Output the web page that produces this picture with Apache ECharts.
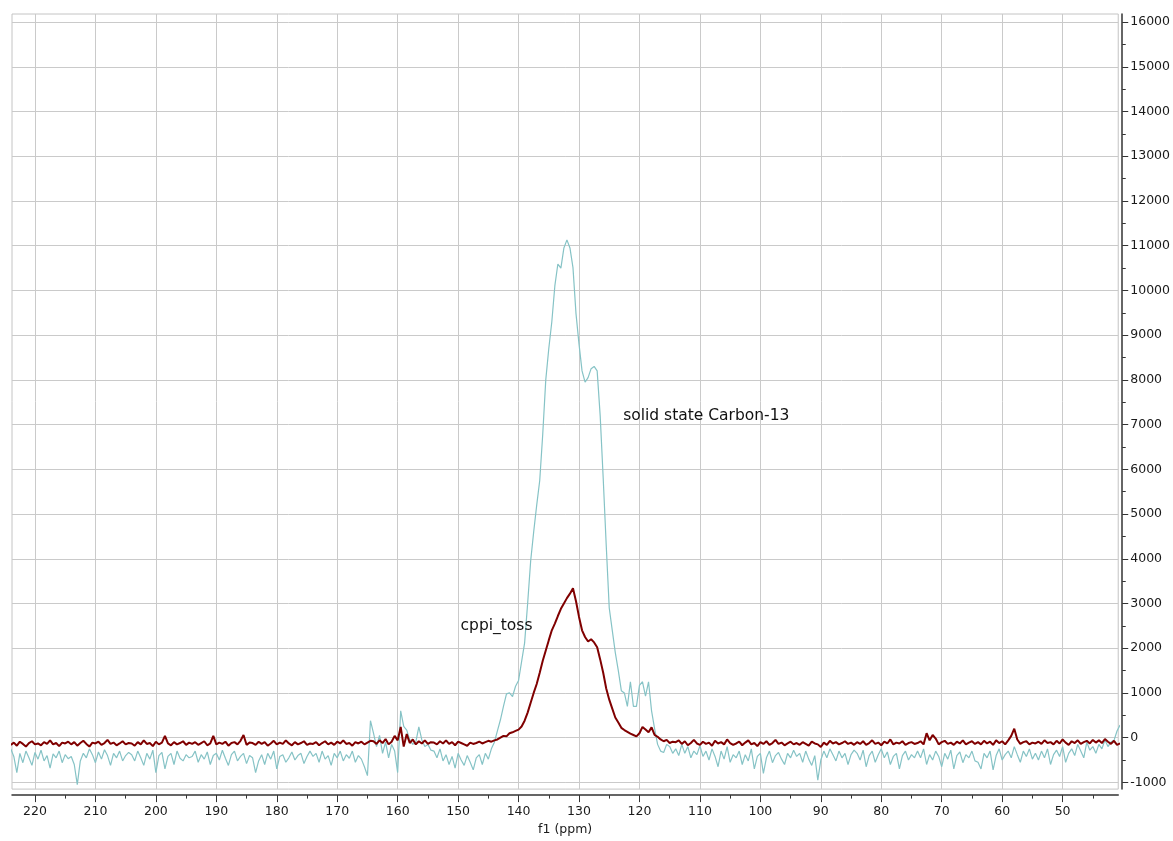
<!DOCTYPE html>
<html><head><meta charset="utf-8">
<script src="https://cdn.jsdelivr.net/npm/echarts@6/dist/echarts.min.js"></script>
<style>html,body{margin:0;padding:0;background:#fff;}#chart{width:1173px;height:841px;}</style>
</head><body><div id="chart"></div>
<script>
// sampling grid of the spectra (ppm), from left to right
const ppmStart = 224.0;
const ppmStep = 0.5;

// cppi_toss intensities (dark red trace), 224.0 -> 40.5 ppm
const cppiToss = [
 -160,-110,-180,-90,-140,-200,-120,-80,-150,-130,-170,-100,-140,-60,-150,-120,-190,-110,-130,-90,
 -150,-100,-180,-120,-70,-140,-200,-110,-130,-90,-160,-120,-50,-140,-110,-170,-130,-80,-150,-120,
 -130,-180,-100,-150,-60,-140,-120,-190,-90,-150,-110,40,-130,-170,-100,-150,-120,-80,-160,-110,
 -140,-100,-160,-120,-80,-170,-130,40,-150,-110,-140,-90,-180,-120,-100,-150,-70,60,-160,-110,
 -120,-160,-90,-140,-100,-180,-130,-70,-150,-110,-140,-60,-130,-170,-100,-150,-120,-80,-160,-130,
 -140,-100,-170,-120,-80,-150,-110,-160,-90,-130,-60,-140,-120,-180,-100,-130,-90,-150,-110,-70,
 -80,-140,-60,-120,-30,-150,-90,40,-60,240,-200,80,-120,-40,-150,-80,-130,-60,-140,-100,
 -110,-150,-80,-130,-60,-140,-100,-170,-90,-120,-150,-180,-110,-140,-120,-90,-130,-100,-70,-90,
 -60,-40,0,40,30,100,120,150,180,250,380,560,780,1000,1200,1450,1720,1950,2180,2400,
 2550,2720,2880,3000,3120,3220,3340,3050,2700,2400,2250,2150,2200,2130,2020,1750,1450,1100,850,650,
 450,340,220,170,130,90,60,30,100,240,180,120,230,60,20,-40,-80,-50,-120,-90,
 -100,-60,-140,-80,-170,-120,-50,-130,-160,-90,-140,-110,-180,-70,-130,-100,-150,-40,-120,-160,
 -130,-90,-170,-110,-60,-150,-120,-190,-100,-140,-80,-160,-120,-50,-140,-110,-170,-130,-90,-150,
 -120,-160,-100,-140,-180,-90,-130,-150,-210,-110,-160,-70,-130,-100,-150,-120,-80,-140,-110,-160,
 -100,-140,-80,-160,-120,-60,-140,-110,-170,-90,-130,-40,-150,-110,-130,-80,-160,-120,-100,-140,
 -120,-80,-150,100,-60,60,-20,-150,-100,-70,-140,-110,-160,-90,-130,-60,-150,-110,-80,-140,
 -100,-150,-70,-130,-90,-160,-60,-120,-80,-150,-60,40,200,-40,-140,-100,-80,-150,-110,-130,
 -90,-140,-60,-120,-100,-150,-70,-130,-40,-110,-160,-80,-120,-60,-140,-100,-70,-130,-50,-110,
 -60,-120,-30,-90,-140,-70,-160,-130
];

// solid state Carbon-13 intensities (light teal trace), 224.0 -> 40.5 ppm
const solidState = [
 -250,-420,-780,-350,-560,-300,-450,-620,-330,-480,-280,-520,-400,-680,-360,-450,-300,-560,-380,-470,
 -420,-600,-1050,-520,-350,-450,-250,-380,-560,-320,-480,-270,-400,-620,-350,-450,-300,-520,-400,-330,
 -380,-520,-300,-450,-620,-350,-480,-280,-780,-400,-330,-700,-420,-350,-600,-300,-460,-520,-380,-450,
 -420,-300,-550,-380,-480,-320,-600,-400,-350,-500,-280,-460,-620,-380,-300,-520,-420,-350,-580,-400,
 -450,-780,-520,-380,-600,-350,-480,-300,-700,-420,-380,-550,-450,-320,-500,-400,-350,-580,-420,-300,
 -420,-350,-550,-300,-480,-400,-620,-350,-450,-300,-520,-380,-460,-300,-550,-400,-480,-650,-850,380,
 100,-200,50,-350,-100,-450,-150,-300,-780,600,250,170,-50,-150,-100,240,-50,-200,-150,-280,
 -300,-450,-250,-520,-380,-600,-420,-680,-350,-500,-620,-400,-550,-720,-450,-380,-600,-350,-480,-250,
 -100,150,400,700,980,1000,920,1150,1280,1700,2120,3000,3950,4600,5200,5750,6790,8000,8700,9300,
 10100,10590,10500,10950,11130,10950,10510,9480,8800,8200,7950,8050,8250,8300,8200,7200,5800,4300,2900,2400,
 1900,1500,1050,1000,700,1250,700,700,1170,1250,930,1250,600,200,-150,-300,-330,-150,-200,-350,
 -250,-400,-150,-350,-200,-450,-300,-380,-180,-420,-300,-500,-250,-420,-650,-300,-480,-200,-550,-380,
 -450,-300,-600,-380,-520,-250,-700,-420,-350,-800,-450,-300,-560,-400,-330,-480,-600,-350,-450,-280,
 -420,-350,-550,-300,-480,-620,-400,-950,-500,-300,-450,-250,-380,-520,-300,-450,-350,-600,-380,-280,
 -350,-500,-280,-650,-400,-300,-550,-380,-250,-450,-320,-600,-420,-350,-700,-400,-300,-500,-380,-450,
 -300,-450,-250,-600,-380,-500,-300,-420,-650,-350,-480,-280,-700,-400,-320,-560,-380,-450,-300,-520,
 -550,-700,-350,-450,-300,-720,-400,-250,-500,-380,-300,-450,-200,-380,-550,-300,-420,-250,-480,-350,
 -500,-300,-450,-250,-600,-380,-280,-420,-200,-550,-350,-250,-400,-150,-300,-450,-100,-280,-200,-350,
 -150,-250,-50,-200,-100,-60,150,280
];

const xMajorTicks = [220,210,200,190,180,170,160,150,140,130,120,110,100,90,80,70,60,50];
const xMinorTicks = [215,205,195,185,175,165,155,145,135,125,115,105,95,85,75,65,55,45];
const yMajorTicks = [-1000,0,1000,2000,3000,4000,5000,6000,7000,8000,9000,10000,11000,12000,13000,14000,15000,16000];
const yMinorTicks = [-500,500,1500,2500,3500,4500,5500,6500,7500,8500,9500,10500,11500,12500,13500,14500,15500];

const seriesNames = ['solid state Carbon-13', 'cppi_toss'];
const labelPpm = [122.7, 149.6];
const labelValue = [7190, 2500];

function pairs(vals) {
  return vals.map((v, i) => [+(ppmStart - i * ppmStep).toFixed(2), v]);
}

const FONT = 'DejaVu Sans';
const axisColor = '#333333';
const gridColor = '#cacaca';
const textColor = '#1a1a1a';

const chart = echarts.init(document.getElementById('chart'), null, {renderer: 'canvas'});
chart.setOption({
  animation: false,
  backgroundColor: '#ffffff',
  grid: {left: 12, right: 52, top: 14, bottom: 44.5, show: true, borderColor: '#c4c4c4', borderWidth: 1, containLabel: false},
  xAxis: [{
    type: 'value', inverse: true, min: 40.8, max: 223.8, position: 'bottom', offset: 6,
    minInterval: 10, maxInterval: 10, splitNumber: 18,
    axisLine: {show: true, onZero: false, lineStyle: {color: axisColor, width: 1.5}},
    axisTick: {show: true, customValues: xMajorTicks, length: 7, lineStyle: {color: axisColor, width: 1}},
    axisLabel: {show: true, customValues: xMajorTicks, margin: 10, fontSize: 12.5, fontFamily: FONT, color: textColor},
    splitLine: {show: true, lineStyle: {color: gridColor, width: 1}},
    name: 'f1 (ppm)', nameLocation: 'middle', nameGap: 27,
    nameTextStyle: {fontSize: 12.5, fontFamily: FONT, color: textColor}
  }, {
    type: 'value', inverse: true, min: 40.8, max: 223.8, position: 'bottom', offset: 6,
    axisLine: {show: false, onZero: false},
    axisTick: {show: true, customValues: xMinorTicks, length: 3.5, lineStyle: {color: axisColor, width: 1}},
    axisLabel: {show: false},
    splitLine: {show: false}
  }],
  yAxis: [{
    type: 'value', min: -1150, max: 16180, position: 'right', offset: 4,
    minInterval: 1000, maxInterval: 1000, splitNumber: 17,
    axisLine: {show: true, onZero: false, lineStyle: {color: axisColor, width: 1.5}},
    axisTick: {show: true, customValues: yMajorTicks, length: 6, lineStyle: {color: axisColor, width: 1}},
    axisLabel: {show: true, customValues: yMajorTicks, margin: 8, fontSize: 12.5, fontFamily: FONT, color: textColor,
      formatter: v => String(v)},
    splitLine: {show: true, lineStyle: {color: gridColor, width: 1}}
  }, {
    type: 'value', min: -1150, max: 16180, position: 'right', offset: 4,
    axisLine: {show: false, onZero: false},
    axisTick: {show: true, customValues: yMinorTicks, length: 3.5, lineStyle: {color: axisColor, width: 1}},
    axisLabel: {show: false},
    splitLine: {show: false}
  }],
  series: [{
    name: seriesNames[0], type: 'line', xAxisIndex: 0, yAxisIndex: 0,
    data: pairs(solidState), showSymbol: false, symbol: 'none', clip: true,
    lineStyle: {color: '#86c3c6', width: 1.2},
    markPoint: {symbol: 'circle', symbolSize: 0, silent: true,
      label: {show: true, position: 'right', distance: 0, formatter: seriesNames[0], fontSize: 15.5, fontFamily: FONT, color: '#111'},
      data: [{coord: [labelPpm[0], labelValue[0]]}]}
  }, {
    name: seriesNames[1], type: 'line', xAxisIndex: 0, yAxisIndex: 0,
    data: pairs(cppiToss), showSymbol: false, symbol: 'none', clip: true,
    lineStyle: {color: '#800000', width: 2},
    markPoint: {symbol: 'circle', symbolSize: 0, silent: true,
      label: {show: true, position: 'right', distance: 0, formatter: seriesNames[1], fontSize: 15.5, fontFamily: FONT, color: '#111'},
      data: [{coord: [labelPpm[1], labelValue[1]]}]}
  }]
});
</script>
</body></html>
